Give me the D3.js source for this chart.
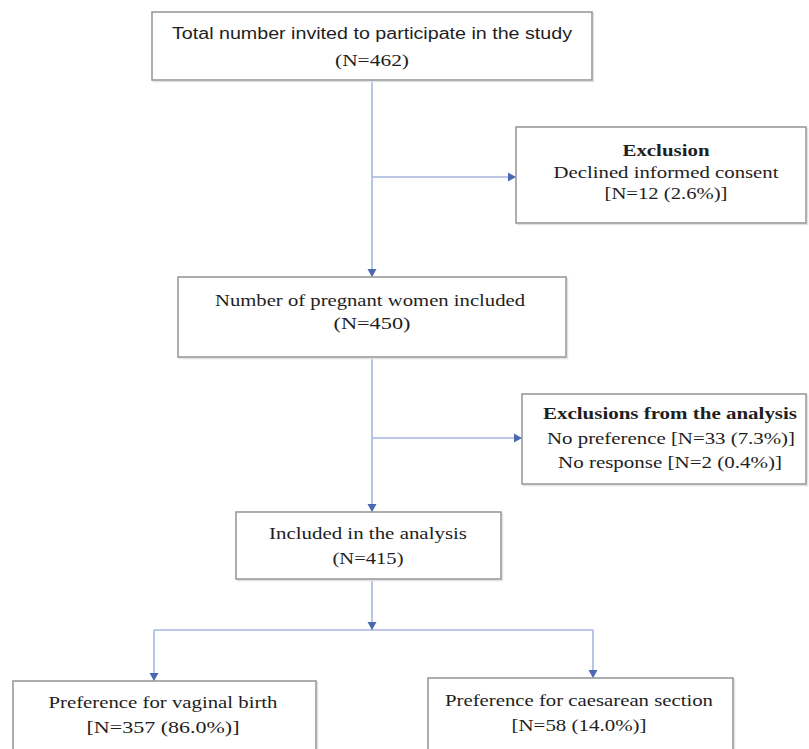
<!DOCTYPE html>
<html>
<head>
<meta charset="utf-8">
<script src="https://cdn.jsdelivr.net/npm/d3@7"></script>
<style>
  html, body { margin: 0; padding: 0; background: #fff; }
  svg { display: block; }
</style>
</head>
<body>
<svg id="chart" width="809" height="749"></svg>
<script>
// ---- data ----
const stageNames = ["invited", "declined", "included", "excludedAnalysis", "analysed", "vaginal", "caesarean"];
const stageCounts = [462, 12, 450, 35, 415, 357, 58];
const stageLines = [
  ["Total number invited to participate in the study", "(N=462)"],
  ["Exclusion", "Declined informed consent", "[N=12 (2.6%)]"],
  ["Number of pregnant women included", "(N=450)"],
  ["Exclusions from the analysis", "No preference [N=33 (7.3%)]", "No response [N=2 (0.4%)]"],
  ["Included in the analysis", "(N=415)"],
  ["Preference for vaginal birth", "[N=357 (86.0%)]"],
  ["Preference for caesarean section", "[N=58 (14.0%)]"]
];
const boldFirstLine = [false, true, false, true, false, false, false];

// ---- layout (positions/styles kept separate from data) ----
const boxes = [
  {x0: 152, x1: 592, y0: 12,  y1: 80},
  {x0: 516, x1: 806, y0: 127, y1: 223},
  {x0: 178, x1: 566, y0: 277, y1: 357},
  {x0: 522, x1: 806, y0: 394, y1: 484},
  {x0: 236, x1: 501, y0: 512, y1: 579},
  {x0: 13,  x1: 316, y0: 681, y1: 752},
  {x0: 428, x1: 733, y0: 678, y1: 752}
];
// text line centers and widths
const textLayout = [
  [{cx: 372, cy: 33, w: 400, sans: true}, {cx: 372, cy: 60, w: 74}],
  [{cx: 666, cy: 150, w: 87}, {cx: 666, cy: 172, w: 225}, {cx: 666, cy: 193, w: 123}],
  [{cx: 370, cy: 300, w: 310}, {cx: 372, cy: 323, w: 77}],
  [{cx: 670, cy: 413, w: 254}, {cx: 671, cy: 438, w: 248}, {cx: 670, cy: 462, w: 224}],
  [{cx: 368, cy: 533, w: 198}, {cx: 368, cy: 558, w: 71}],
  [{cx: 163, cy: 702, w: 229}, {cx: 163, cy: 727, w: 153}],
  [{cx: 579, cy: 700, w: 268}, {cx: 579, cy: 725, w: 135}]
];

const svg = d3.select("#chart");
const lineColor = "#a7b6e0";
const arrowColor = "#4a68b3";

// connectors: [x1,y1,x2,y2,arrow]
const spineX = 372, splitY = 630, leftX = 154, rightX = 593;
const connectors = [
  [spineX, boxes[0].y1, spineX, boxes[2].y0, true],
  [spineX, 177, boxes[1].x0, 177, true],
  [spineX, boxes[2].y1, spineX, boxes[4].y0, true],
  [spineX, 438, boxes[3].x0, 438, true],
  [spineX, boxes[4].y1, spineX, splitY, true],
  [leftX, splitY, rightX, splitY, false],
  [leftX, splitY, leftX, boxes[5].y0, true],
  [rightX, splitY, rightX, boxes[6].y0, true]
];

const gLines = svg.append("g");
gLines.selectAll("line").data(connectors).join("line")
  .attr("x1", d => d[0]).attr("y1", d => d[1])
  .attr("x2", d => d[2]).attr("y2", d => d[3])
  .attr("stroke", lineColor).attr("stroke-width", 1.6);

// arrowheads
gLines.selectAll("path.arrow").data(connectors.filter(d => d[4])).join("path")
  .attr("class", "arrow")
  .attr("fill", arrowColor)
  .attr("d", d => {
    const [x1, y1, x2, y2] = d;
    const L = 8, W = 4.5;
    if (x1 === x2) {
      return `M${x2 - W},${y2 - L} L${x2 + W},${y2 - L} L${x2},${y2} Z`;
    } else {
      return `M${x2 - L},${y2 - W} L${x2 - L},${y2 + W} L${x2},${y2} Z`;
    }
  });

// boxes
const gBoxes = svg.append("g");
gBoxes.selectAll("rect.shadow").data(boxes).join("rect")
  .attr("class", "shadow")
  .attr("x", d => d.x0 + 1.5).attr("y", d => d.y0 + 1.5)
  .attr("width", d => d.x1 - d.x0).attr("height", d => d.y1 - d.y0)
  .attr("fill", "none").attr("stroke", "#e2e2e2").attr("stroke-width", 1.5);
gBoxes.selectAll("rect.box").data(boxes).join("rect")
  .attr("class", "box")
  .attr("x", d => d.x0).attr("y", d => d.y0)
  .attr("width", d => d.x1 - d.x0).attr("height", d => d.y1 - d.y0)
  .attr("fill", "#fff").attr("stroke", "#9a9a9a").attr("stroke-width", 1.6);

// texts
const gText = svg.append("g");
stageNames.forEach((name, i) => {
  stageLines[i].forEach((txt, j) => {
    const L = textLayout[i][j];
    gText.append("text")
      .attr("x", L.cx).attr("y", L.cy)
      .attr("dy", "0.35em")
      .attr("text-anchor", "middle")
      .attr("fill", "#1e1e1e")
      .attr("font-family", L.sans ? "'Liberation Sans', Arial, sans-serif" : "'Liberation Serif', 'Times New Roman', serif")
      .attr("font-size", L.sans ? 16 : 17)
      .attr("font-weight", (boldFirstLine[i] && j === 0) ? "bold" : "normal")
      .attr("textLength", L.w)
      .attr("lengthAdjust", "spacingAndGlyphs")
      .text(txt);
  });
});
</script>
</body>
</html>
